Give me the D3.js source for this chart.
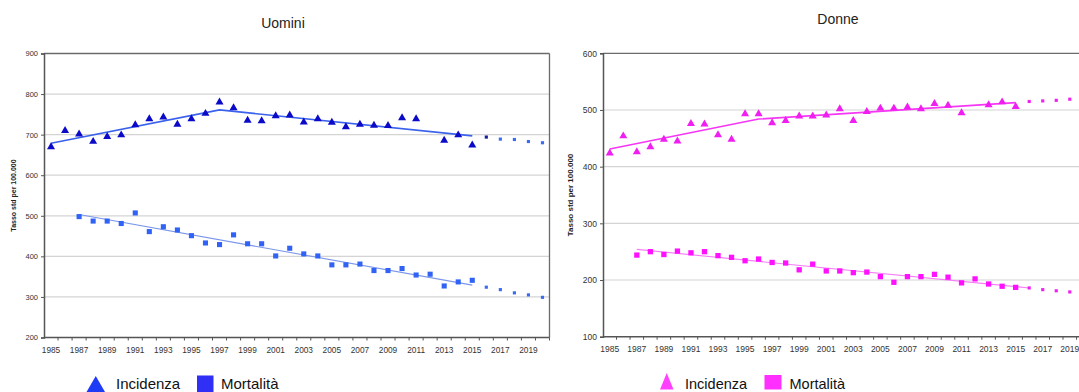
<!DOCTYPE html>
<html>
<head>
<meta charset="utf-8">
<script src="https://cdn.jsdelivr.net/npm/d3@7"></script>
<style>
  html, body { margin: 0; padding: 0; background: #fff; }
  svg { display: block; font-family: Arial, "Liberation Sans", sans-serif; }
</style>
</head>
<body>
<svg id="chart" width="1079" height="392"></svg>
<script>
// Anni sull'asse orizzontale (1985-2020)
const years = [1985,1986,1987,1988,1989,1990,1991,1992,1993,1994,1995,1996,1997,1998,1999,2000,
               2001,2002,2003,2004,2005,2006,2007,2008,2009,2010,2011,2012,2013,2014,2015,
               2016,2017,2018,2019,2020];
const tickYears = [1985,1987,1989,1991,1993,1995,1997,1999,2001,2003,2005,2007,2009,2011,2013,2015,2017,2019];
const observedYears = years.slice(0, 31);   // 1985-2015
const mortalityYears = years.slice(2, 31);  // 1987-2015
const projectionYears = years.slice(31);    // 2016-2020

// Uomini
const uominiIncidenza = [670,710,701,683,695,699,724,739,743,725,739,752,780,766,735,734,
                         746,748,731,739,730,719,725,723,722,741,739,null,686,699,674];
const uominiIncidenzaProiezione = [694,689,688,683,680];
const uominiIncidenzaTrendYears = [1985,1997,2015];
const uominiIncidenzaTrend = [679,761,697];
const uominiMortalita = [498,487,487,481,507,461,473,465,451,433,429,453,431,431,
                         401,420,406,401,379,379,381,365,365,370,354,356,327,337,341];
const uominiMortalitaProiezione = [324,318,310,305,299];
const uominiMortalitaTrendYears = [1987,2015];
const uominiMortalitaTrend = [503,329];
const uominiTicks = [200,300,400,500,600,700,800,900];

// Donne
const donneIncidenza = [424,454,426,435,448,445,476,475,456,448,493,493,477,481,489,489,
                        491,502,481,497,503,503,505,502,511,508,495,null,509,514,506];
const donneIncidenzaProiezione = [515,516,517,519,520];
const donneIncidenzaTrendYears = [1985,1996,2015];
const donneIncidenzaTrend = [431,484,513];
const donneMortalita = [244,250,245,251,248,250,243,240,234,237,231,230,218,228,
                        216,216,213,214,206,196,206,206,210,205,195,202,193,189,187];
const donneMortalitaProiezione = [186,183,181,179,177];
const donneMortalitaTrendYears = [1987,2016];
const donneMortalitaTrend = [254,186];
const donneTicks = [100,200,300,400,500,600];

const svg = d3.select("#chart");

function panel(cfg) {
  const g = svg.append("g");
  const x = d3.scaleBand().domain(years).range([cfg.x0, cfg.x1]).padding(0);
  const y = d3.scaleLinear().domain(cfg.domain).range([cfg.y0, cfg.y1]);
  const cx = d => x(d) + x.bandwidth() / 2;

  // griglia orizzontale
  g.append("g").selectAll("line")
    .data(cfg.ticks.filter(t => t !== cfg.domain[0] && t !== cfg.domain[1]))
    .join("line")
    .attr("x1", cfg.x0).attr("x2", cfg.x1)
    .attr("y1", d => y(d)).attr("y2", d => y(d))
    .attr("stroke", "#d4d4d4").attr("stroke-width", 1.2);

  // bordo superiore e destro
  g.append("line").attr("x1", cfg.x0).attr("x2", cfg.x1)
    .attr("y1", y(cfg.domain[1])).attr("y2", y(cfg.domain[1]))
    .attr("stroke", "#6b6b6b").attr("stroke-width", 1.3);
  g.append("line").attr("x1", cfg.x1).attr("x2", cfg.x1)
    .attr("y1", y(cfg.domain[1])).attr("y2", y(cfg.domain[0]))
    .attr("stroke", "#6b6b6b").attr("stroke-width", 1.3);

  // asse Y
  const yAxis = d3.axisLeft(y).tickValues(cfg.ticks).tickSize(3).tickPadding(3);
  const ya = g.append("g").attr("transform", `translate(${cfg.x0},0)`).call(yAxis);
  ya.select(".domain").attr("stroke", "#555").attr("stroke-width", 1.5);
  ya.selectAll(".tick line").attr("stroke", "#555");
  ya.selectAll("text").attr("font-size", cfg.yFont).attr("fill", "#333")
    .attr("font-family", "Arial, 'Liberation Sans', sans-serif");

  // asse X: tacche ai bordi delle categorie, etichette ogni due anni
  const xa = g.append("g");
  xa.append("line").attr("x1", cfg.x0).attr("x2", cfg.x1)
    .attr("y1", cfg.y0).attr("y2", cfg.y0)
    .attr("stroke", "#555").attr("stroke-width", 1.5);
  xa.selectAll("line.tk").data(years).join("line").attr("class", "tk")
    .attr("x1", d => x(d) + x.bandwidth()).attr("x2", d => x(d) + x.bandwidth())
    .attr("y1", cfg.y0).attr("y2", cfg.y0 + 3)
    .attr("stroke", "#555");
  xa.selectAll("text").data(tickYears).join("text")
    .attr("x", d => cx(d)).attr("y", cfg.y0 + 15)
    .attr("text-anchor", "middle").attr("font-size", cfg.xFont).attr("fill", "#333")
    .text(d => d);

  // titolo asse Y
  g.append("text")
    .attr("transform", `translate(${cfg.labelX},${(cfg.y0 + cfg.y1) / 2}) rotate(-90)`)
    .attr("text-anchor", "middle").attr("font-size", cfg.labelFont).attr("font-weight", "bold")
    .attr("fill", "#222").text("Tasso std per 100.000");

  // titolo
  g.append("text").attr("x", cfg.titleX).attr("y", cfg.titleY)
    .attr("text-anchor", "middle").attr("font-size", 14).attr("fill", "#222").text(cfg.title);

  const line = d3.line().x(d => cx(d[0])).y(d => y(d[1]));

  // linee di tendenza
  g.append("path").datum(d3.zip(cfg.incTrendYears, cfg.incTrend))
    .attr("d", line).attr("fill", "none")
    .attr("stroke", cfg.incLine).attr("stroke-width", 1.6);
  g.append("path").datum(d3.zip(cfg.morTrendYears, cfg.morTrend))
    .attr("d", line).attr("fill", "none")
    .attr("stroke", cfg.morLine).attr("stroke-width", 1.1);

  const tri = d3.symbol().type(d3.symbolTriangle).size(cfg.triSize);
  const sq = d3.symbol().type(d3.symbolSquare).size(cfg.sqSize);
  const sqSmall = d3.symbol().type(d3.symbolSquare).size(cfg.projSize);

  // incidenza osservata
  g.append("g").selectAll("path")
    .data(d3.zip(observedYears, cfg.inc).filter(d => d[1] != null))
    .join("path")
    .attr("transform", d => `translate(${cx(d[0])},${y(d[1])})`)
    .attr("d", tri).attr("fill", cfg.incColor);

  // mortalità osservata
  g.append("g").selectAll("path")
    .data(d3.zip(mortalityYears, cfg.mor).filter(d => d[1] != null))
    .join("path")
    .attr("transform", d => `translate(${cx(d[0])},${y(d[1])})`)
    .attr("d", sq).attr("fill", cfg.morColor);

  // proiezioni
  g.append("g").selectAll("path")
    .data(d3.zip(projectionYears, cfg.incProj))
    .join("path")
    .attr("transform", d => `translate(${cx(d[0])},${y(d[1])})`)
    .attr("d", sqSmall).attr("fill", (d, i) => i === 0 ? cfg.projFirst : cfg.projColor);
  g.append("g").selectAll("path")
    .data(d3.zip(projectionYears, cfg.morProj))
    .join("path")
    .attr("transform", d => `translate(${cx(d[0])},${y(d[1])})`)
    .attr("d", sqSmall).attr("fill", cfg.projColor);

  // legenda
  const lg = g.append("g");
  const L = cfg.legend;
  lg.append("path")
    .attr("d", `M${L.triX0},${L.triY1}L${L.triX1},${L.triY1}L${(L.triX0 + L.triX1) / 2},${L.triY0}Z`)
    .attr("fill", L.triColor);
  lg.append("text").attr("x", L.incX).attr("y", L.baseline).attr("font-size", L.font)
    .attr("fill", "#111").text("Incidenza");
  lg.append("rect").attr("x", L.sqX).attr("y", L.sqY).attr("width", L.sqW).attr("height", L.sqH)
    .attr("fill", L.sqColor);
  lg.append("text").attr("x", L.morX).attr("y", L.baseline).attr("font-size", L.font)
    .attr("fill", "#111").text("Mortalità");
}

panel({
  title: "Uomini", titleX: 283, titleY: 27.5,
  x0: 44, x1: 549.5, y0: 337.5, y1: 53.5, domain: [200, 900], ticks: uominiTicks,
  yFont: 7.5, xFont: 8.3, labelX: 16, labelFont: 7,
  inc: uominiIncidenza, incProj: uominiIncidenzaProiezione,
  incTrendYears: uominiIncidenzaTrendYears, incTrend: uominiIncidenzaTrend,
  mor: uominiMortalita, morProj: uominiMortalitaProiezione,
  morTrendYears: uominiMortalitaTrendYears, morTrend: uominiMortalitaTrend,
  incColor: "#0a0ac8", morColor: "#2f62f5", incLine: "#3a62ec", morLine: "#7b97ea",
  projColor: "#3a6cf2", projFirst: "#16209a",
  triSize: 28, sqSize: 26, projSize: 10,
  legend: { triX0: 86.5, triX1: 105, triY0: 376, triY1: 392, triColor: "#1e3cf5",
            incX: 116, sqX: 197, sqY: 375.5, sqW: 16.5, sqH: 16.5, sqColor: "#2f2ff5",
            morX: 221, baseline: 388.5, font: 15 }
});

panel({
  title: "Donne", titleX: 838, titleY: 23.5,
  x0: 603, x1: 603 + 36 * 13.53, y0: 336.7, y1: 53.3, domain: [100, 600], ticks: donneTicks,
  yFont: 8.5, xFont: 8.5, labelX: 573, labelFont: 8,
  inc: donneIncidenza, incProj: donneIncidenzaProiezione,
  incTrendYears: donneIncidenzaTrendYears, incTrend: donneIncidenzaTrend,
  mor: donneMortalita, morProj: donneMortalitaProiezione,
  morTrendYears: donneMortalitaTrendYears, morTrend: donneMortalitaTrend,
  incColor: "#f01ef0", morColor: "#ff10ff", incLine: "#f536f5", morLine: "#f77df7",
  projColor: "#f020f0", projFirst: "#f020f0",
  triSize: 28, sqSize: 28, projSize: 10,
  legend: { triX0: 660, triX1: 673.5, triY0: 373, triY1: 389.5, triColor: "#ff40ff",
            incX: 685, sqX: 764.5, sqY: 375, sqW: 17, sqH: 14.5, sqColor: "#ff30ff",
            morX: 789.5, baseline: 389, font: 14.5 }
});
</script>
</body>
</html>
